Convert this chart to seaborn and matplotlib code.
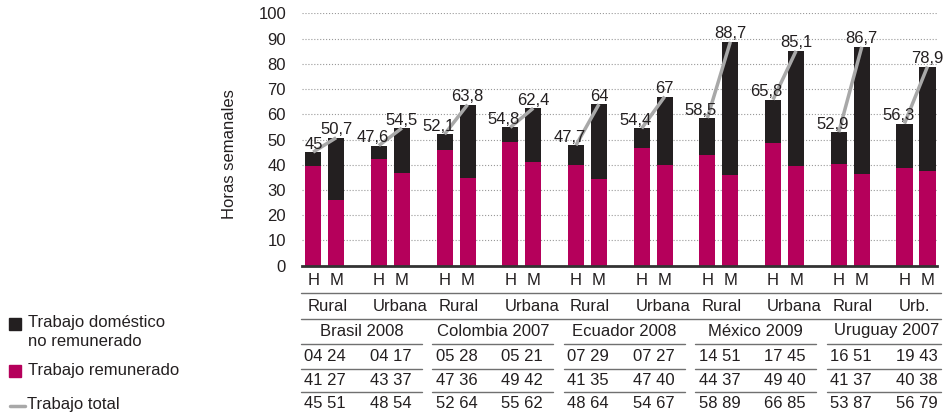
import numpy as np
import pandas as pd
import seaborn as sns
import matplotlib.pyplot as plt
from matplotlib.patches import Rectangle
from matplotlib.lines import Line2D
from matplotlib.transforms import blended_transform_factory

# datos (horas semanales)
paises = ['Brasil 2008', 'Colombia 2007', 'Ecuador 2008', 'México 2009', 'Uruguay 2007']
zonas = ['Rural', 'Urbana', 'Rural', 'Urbana', 'Rural', 'Urbana', 'Rural', 'Urbana', 'Rural', 'Urb.']
remunerado_h = [39.6, 42.3, 45.8, 49.0, 39.9, 46.6, 43.9, 48.6, 40.3, 38.7]
remunerado_m = [25.9, 36.7, 34.8, 41.1, 34.4, 39.9, 35.9, 39.5, 36.5, 37.5]
total_h = [45, 47.6, 52.1, 54.8, 47.7, 54.4, 58.5, 65.8, 52.9, 56.3]
total_m = [50.7, 54.5, 63.8, 62.4, 64, 67, 88.7, 85.1, 86.7, 78.9]
# tabla inferior
tabla_domestico = ['04 24', '04 17', '05 28', '05 21', '07 29', '07 27', '14 51', '17 45', '16 51', '19 43']
tabla_remunerado = ['41 27', '43 37', '47 36', '49 42', '41 35', '47 40', '44 37', '49 40', '41 37', '40 38']
tabla_total = ['45 51', '48 54', '52 64', '55 62', '48 64', '54 67', '58 89', '66 85', '53 87', '56 79']

grupos = [f'{paises[i // 2]} {z}' for i, z in enumerate(zonas)]
df = pd.DataFrame({
    'grupo': grupos * 2,
    'sexo': ['H'] * len(grupos) + ['M'] * len(grupos),
    'remunerado': remunerado_h + remunerado_m,
    'total': total_h + total_m,
})

magenta = '#b5005b'
negro = '#231f20'
gris = '#a8a8a8'
linea_tabla = '#707070'

sns.set_style('white')
plt.rcParams['font.family'] = ['Liberation Sans', 'DejaVu Sans']
plt.rcParams['font.size'] = 12
plt.rcParams['text.color'] = negro

W, H = 945, 417
fig = plt.figure(figsize=(W / 100, H / 100), dpi=100)
ax = fig.add_axes([302 / W, 1 - 265.7 / H, 635 / W, 252.4 / H])

# barras apiladas: total (negro) y remunerado (magenta) encima
sns.barplot(data=df, x='grupo', y='total', hue='sexo', order=grupos, hue_order=['H', 'M'],
            palette=[negro, negro], width=0.7, gap=0.3, saturation=1, errorbar=None,
            legend=False, linewidth=0, ax=ax)
sns.barplot(data=df, x='grupo', y='remunerado', hue='sexo', order=grupos, hue_order=['H', 'M'],
            palette=[magenta, magenta], width=0.7, gap=0.3, saturation=1, errorbar=None,
            legend=False, linewidth=0, ax=ax)

dx = 0.7 / 4
fmt = lambda v: f'{v:g}'.replace('.', ',')
for i, (th, tm) in enumerate(zip(total_h, total_m)):
    ax.plot([i - dx, i + dx], [th, tm], color=gris, lw=2.5, zorder=4, solid_capstyle='butt')
    ax.annotate(fmt(th), (i - dx, th), xytext=(7, 2.5), textcoords='offset points',
                ha='right', va='baseline', fontsize=12, zorder=5)
    ax.annotate(fmt(tm), (i + dx, tm), xytext=(0, 2.5), textcoords='offset points',
                ha='center', va='baseline', fontsize=12, zorder=5)

ax.set_xlim(-0.345, 9.32)
ax.set_ylim(0, 100)
ax.set_yticks(range(0, 101, 10))
ax.set_xticks([])
ax.set_xlabel('')
ax.set_ylabel('')
ax.set_axisbelow(True)
ax.yaxis.grid(True, linestyle=':', color='#999999', lw=0.8)
ax.xaxis.grid(False)
ax.tick_params(axis='y', length=0, pad=11.5, labelsize=12, labelcolor=negro)
sns.despine(ax=ax, left=True)
ax.spines['bottom'].set_color('#333333')
ax.spines['bottom'].set_linewidth(2)

fig.text(230 / W, 1 - 154 / H, 'Horas semanales', rotation=90, ha='center', va='center', fontsize=12)

# tabla debajo del eje
tr = blended_transform_factory(ax.transData, fig.transFigure)
fy = lambda ypx: 1 - ypx / H


def hline(x0, x1, ypx):
    ax.plot([x0, x1], [fy(ypx), fy(ypx)], transform=tr, clip_on=False, color=linea_tabla, lw=1)


for ypx in [293.3, 319]:
    hline(-0.358, 9.38, ypx)
for k in range(len(paises)):
    for ypx in [344.3, 369.3, 392.3]:
        hline(2 * k - 0.36, min(2 * k + 1.48, 9.38), ypx)
    ax.text(2 * k + 0.56, fy(331), paises[k], transform=tr, ha='center', va='center', fontsize=12)

for i in range(len(grupos)):
    ax.text(i - dx, fy(280.7), 'H', transform=tr, ha='center', va='center', fontsize=12)
    ax.text(i + dx, fy(280.7), 'M', transform=tr, ha='center', va='center', fontsize=12)
    ax.text(i - 0.265, fy(306.7), zonas[i], transform=tr, ha='left', va='center', fontsize=12)
    ax.text(i - 0.31, fy(356.7), tabla_domestico[i], transform=tr, ha='left', va='center', fontsize=12)
    ax.text(i - 0.31, fy(380.7), tabla_remunerado[i], transform=tr, ha='left', va='center', fontsize=12)
    ax.text(i - 0.31, fy(404), tabla_total[i], transform=tr, ha='left', va='center', fontsize=12)

# leyenda
fig.add_artist(Rectangle((9 / W, fy(330)), 12 / W, 12 / H, transform=fig.transFigure, color=negro))
fig.text(28 / W, fy(331.7), 'Trabajo doméstico\nno remunerado', ha='left', va='center',
         fontsize=12, linespacing=1.3)
fig.add_artist(Rectangle((9 / W, fy(377)), 12 / W, 12 / H, transform=fig.transFigure, color=magenta))
fig.text(28 / W, fy(370.7), 'Trabajo remunerado', ha='left', va='center', fontsize=12)
fig.add_artist(Line2D([10 / W, 25 / W], [fy(406), fy(406)], transform=fig.transFigure, color=gris, lw=2.5))
fig.text(26.7 / W, fy(404), 'Trabajo total', ha='left', va='center', fontsize=12)

fig.savefig('out.png', dpi=100)
